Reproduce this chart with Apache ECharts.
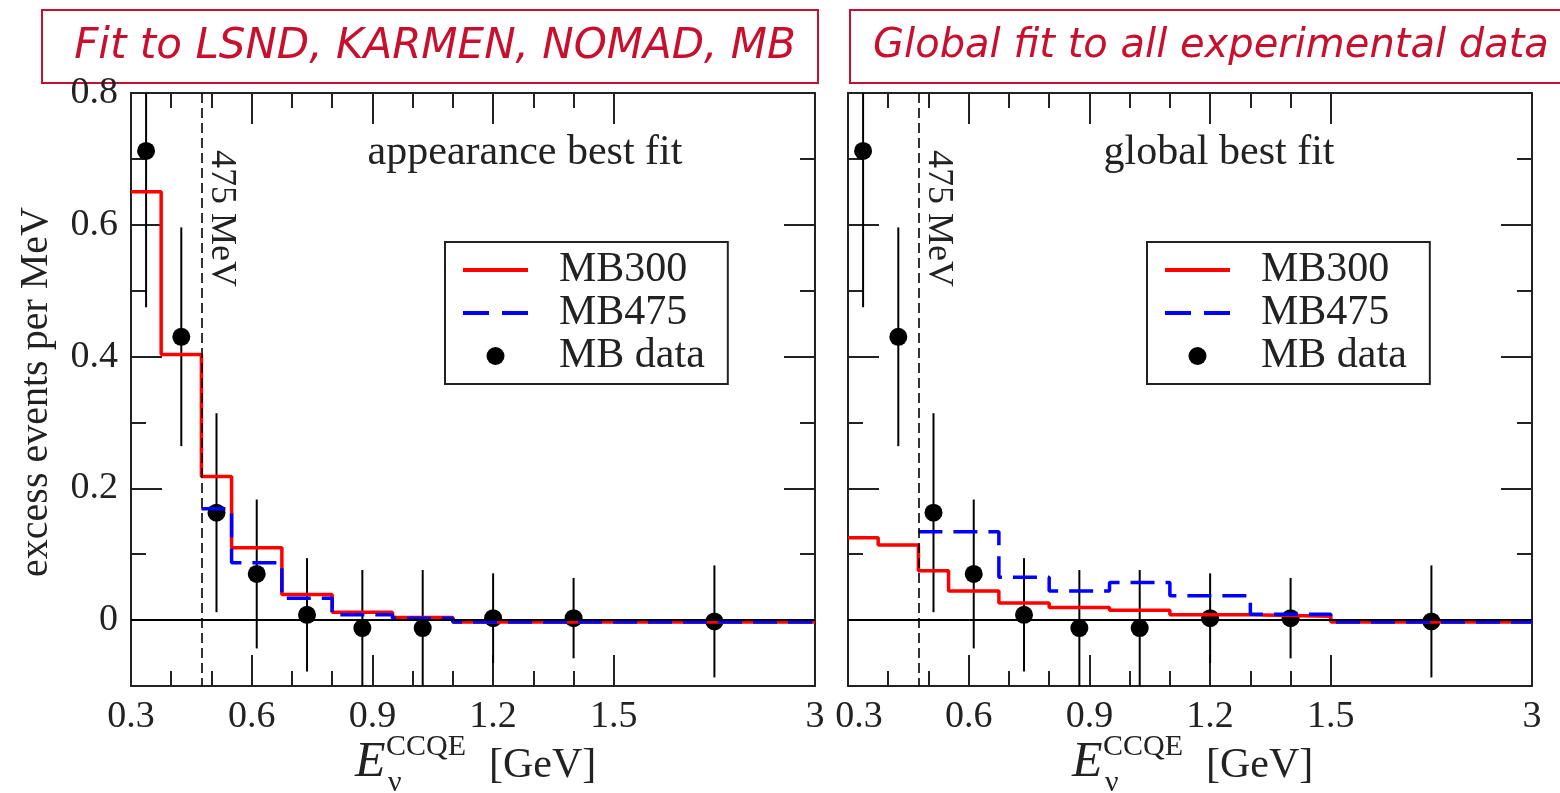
<!DOCTYPE html>
<html><head><meta charset="utf-8">
<script src="https://cdn.jsdelivr.net/npm/echarts@6/dist/echarts.min.js"></script>
<style>html,body{margin:0;padding:0;background:#fff}#c{width:1560px;height:793px}</style>
</head><body><div id="c"></div>
<script>
// ---------- data (energies in GeV) ----------
const binEdges      = [0.3, 0.375, 0.475, 0.55, 0.675, 0.8, 0.95, 1.1, 1.3, 1.5, 3.0];
const mb475Edges    = [0.475, 0.55, 0.675, 0.8, 0.95, 1.1, 1.3, 1.5, 3.0];
// left panel: appearance best fit
const appMB300      = [0.650, 0.403, 0.218, 0.110, 0.039, 0.012, 0.004, -0.003, -0.003, -0.003];
const appMB475      = [0.169, 0.087, 0.033, 0.008, 0.003, -0.003, -0.003, -0.003];
// right panel: global best fit
const globMB300     = [0.125, 0.114, 0.075, 0.044, 0.026, 0.019, 0.015, 0.008, 0.006, -0.003];
const globMB475     = [0.134, 0.134, 0.065, 0.044, 0.057, 0.037, 0.009, -0.003];
// MiniBooNE data points
const dataE         = [0.3375, 0.425, 0.5125, 0.6125, 0.7375, 0.875, 1.025, 1.2, 1.4, 2.25];
const dataY         = [0.712, 0.430, 0.163, 0.070, 0.008, -0.012, -0.012, 0.003, 0.003, -0.002];
const dataErr       = [0.237, 0.166, 0.151, 0.113, 0.086, 0.088, 0.088, 0.068, 0.061, 0.085];
// axis ticks
const xTickLabels   = [0.3, 0.6, 0.9, 1.2, 1.5, 3];
const xMajorTicks   = [0.6, 0.9, 1.2, 1.5];
const xMinorTicks   = [0.4, 0.5, 0.7, 0.8, 1.0, 1.1, 1.3, 1.4];
const yTickLabels   = [0, 0.2, 0.4, 0.6, 0.8];
const yMajorTicks   = [0, 0.2, 0.4, 0.6];
const yMinorTicks   = [0.1, 0.3, 0.5, 0.7];
const thresholdE    = 0.475;
const panelTitles   = ['Fit to LSND, KARMEN, NOMAD, MB', 'Global fit to all experimental data'];
const panelNotes    = ['appearance best fit', 'global best fit'];

// ---------- scale: linear up to 1.5 GeV, compressed 1.5-3 GeV ----------
function toU(x){ return x <= 1.5 ? x : 1.5 + (x - 1.5) / 3; }
function fromU(u){ return u <= 1.5 + 1e-9 ? u : 1.5 + (u - 1.5) * 3; }
function stepPts(edges, vals){
  const p = [];
  for (let i = 0; i < vals.length; i++){ p.push([toU(edges[i]), vals[i]]); p.push([toU(edges[i+1]), vals[i]]); }
  return p;
}

const SERIF = '"Liberation Serif","Times New Roman",serif';
const INK = '#222';
const RED = '#ff0000', BLUE = '#0000ff';
const grids = [
  {left:131, top:93, width:684, height:593, outerBoundsMode:'none'},
  {left:848, top:93, width:684, height:593, outerBoundsMode:'none'}
];
const lineSt = {color: INK, width: 2};
const xAxes = [], yAxes = [], series = [];

[0,1].forEach(g => {
  const xb = {gridIndex:g, type:'value', min:0.3, max:toU(3), splitLine:{show:false}};
  const mk = (pos, major, labels) => Object.assign({}, xb, {
    position: pos,
    axisLine: {show: major, onZero:false, lineStyle: lineSt},
    axisTick: {show:true, inside:true, length: major ? 31 : 15,
               customValues: (major ? xMajorTicks : xMinorTicks).map(toU), lineStyle: lineSt},
    axisLabel: labels ? {show:true, customValues: xTickLabels.map(toU),
        formatter: v => {
          const x = fromU(v);
          const s = Math.abs(x - 3) < 1e-6 ? '3' : x.toFixed(1);
          return (g === 1 && Math.abs(x - 0.3) < 1e-6) ? '{s|' + s + '}' : s;
        },
        rich: {s: {fontSize:38, fontFamily:SERIF, color:INK, padding:[0,0,0,22]}},
        fontSize:38, fontFamily:SERIF, color:INK, margin:12} : {show:false}
  });
  xAxes.push(mk('bottom', true, true), mk('bottom', false, false), mk('top', true, false), mk('top', false, false));

  const yb = {gridIndex:g, type:'value', min:-0.1, max:0.8, splitLine:{show:false}};
  const mky = (pos, major, labels) => Object.assign({}, yb, {
    position: pos,
    axisLine: {show: major, onZero:false, lineStyle: lineSt},
    axisTick: {show:true, inside:true, length: major ? 31 : 15,
               customValues: major ? yMajorTicks : yMinorTicks, lineStyle: lineSt},
    axisLabel: labels ? {show:true, customValues: yTickLabels,
        formatter: v => v === 0 ? '0' : v.toFixed(1),
        fontSize:38, fontFamily:SERIF, color:INK, margin:13} : {show:false}
  });
  yAxes.push(mky('left', true, g === 0), mky('left', false, false), mky('right', true, false), mky('right', false, false));

  const xi = g * 4, yi = g * 4;
  const mb300 = g === 0 ? appMB300 : globMB300;
  const mb475 = g === 0 ? appMB475 : globMB475;

  series.push({
    type:'custom', name:'err' + g, xAxisIndex:xi, yAxisIndex:yi, clip:true, silent:true,
    data: dataE.map((e, i) => [toU(e), dataY[i] - dataErr[i], dataY[i] + dataErr[i]]),
    encode: {x:0, y:[1,2]},
    renderItem: (params, api) => {
      const a = api.coord([api.value(0), api.value(1)]);
      const b = api.coord([api.value(0), api.value(2)]);
      return {type:'line', shape:{x1:a[0], y1:a[1], x2:b[0], y2:b[1]}, style:{stroke:'#000', lineWidth:2}};
    },
    markLine: {silent:true, symbol:['none','none'], label:{show:false}, animation:false,
      data: [
        {yAxis:0, lineStyle:{color:'#000', width:2, type:'solid'}},
        [{coord:[toU(thresholdE), 0.8]}, {coord:[toU(thresholdE), -0.1], lineStyle:{color:'#000', width:1.6, type:[10,5]}}]
      ]}
  });
  series.push({type:'line', name:'MB300', xAxisIndex:xi, yAxisIndex:yi, data: stepPts(binEdges, mb300),
    symbol:'none', clip:true, lineStyle:{color:RED, width:3.5}, itemStyle:{color:RED}});
  series.push({type:'line', name:'MB475', xAxisIndex:xi, yAxisIndex:yi, data: stepPts(mb475Edges, mb475),
    symbol:'none', clip:true, lineStyle:{color:BLUE, width:3.5, type:[24,11]}, itemStyle:{color:BLUE}});
  series.push({type:'scatter', name:'MB data', xAxisIndex:xi, yAxisIndex:yi, data: dataE.map((e, i) => [toU(e), dataY[i]]),
    symbol:'circle', symbolSize:18, clip:true, itemStyle:{color:'#000', opacity:1}});
});

const legendBase = {
  top:242, orient:'vertical', selectedMode:false,
  data:[
    {name:'MB300', itemStyle:{opacity:0}, lineStyle:{width:4, color:RED}},
    {name:'MB475', itemStyle:{opacity:0}, lineStyle:{width:4, color:BLUE, type:[26,13]}},
    {name:'MB data', icon:'circle', itemStyle:{color:'#000', opacity:1}}
  ],
  itemWidth:65, itemHeight:18, itemGap:1,
  borderColor:INK, borderWidth:2, borderRadius:0, backgroundColor:'#fff',
  padding:[7,23,7,16],
  textStyle:{fontSize:42, fontFamily:SERIF, color:INK, lineHeight:42, padding:[0,0,0,26]}
};

const chart = echarts.init(document.getElementById('c'));
chart.setOption({
  animation:false,
  backgroundColor:'#fff',
  grid: grids,
  xAxis: xAxes,
  yAxis: yAxes,
  legend: [Object.assign({left:445}, legendBase), Object.assign({left:1147}, legendBase)],
  series: series
});

// ---------- annotations ----------
const TITLE_RED = '#c8102e';
const TITLE_FONT = '"Comic Sans MS","DejaVu Sans",sans-serif';
const gfx = [
  {type:'rect', shape:{x:42, y:10, width:776, height:73}, style:{fill:'none', stroke:TITLE_RED, lineWidth:2}},
  {type:'rect', shape:{x:850, y:10, width:730, height:73}, style:{fill:'none', stroke:TITLE_RED, lineWidth:2}},
  {type:'text', x:435, y:47, style:{text:panelTitles[0], fill:TITLE_RED, font:'italic 42px ' + TITLE_FONT, align:'center', verticalAlign:'middle'}},
  {type:'text', x:1211, y:47, style:{text:panelTitles[1], fill:TITLE_RED, font:'italic 40px ' + TITLE_FONT, align:'center', verticalAlign:'middle'}},
  {type:'text', x:525, y:153, style:{text:panelNotes[0], fill:INK, font:'42px ' + SERIF, align:'center', verticalAlign:'middle'}},
  {type:'text', x:1219, y:153, style:{text:panelNotes[1], fill:INK, font:'42px ' + SERIF, align:'center', verticalAlign:'middle'}},
  {type:'text', x:36, y:392, rotation:Math.PI/2, style:{text:'excess events per MeV', fill:INK, font:'40px ' + SERIF, align:'center', verticalAlign:'middle'}}
];
[0,1].forEach(g => {
  const top = chart.convertToPixel({gridIndex:g}, [toU(thresholdE), 0.8]);
  gfx.push({type:'text', x: top[0] + 20, y: top[1] + 57, rotation:-Math.PI/2,
    style:{text:'475 MeV', fill:INK, font:'36px ' + SERIF, align:'left', verticalAlign:'middle'}});
  const gl = grids[g].left;
  gfx.push({type:'text', x: gl + 224, y: 763, style:{text:'E', fill:INK, font:'italic 50px ' + SERIF, align:'left', verticalAlign:'middle'}});
  gfx.push({type:'text', x: gl + 255, y: 747, style:{text:'CCQE', fill:INK, font:'30px ' + SERIF, align:'left', verticalAlign:'middle'}});
  gfx.push({type:'text', x: gl + 257, y: 783, style:{text:'ν', fill:INK, font:'30px ' + SERIF, align:'left', verticalAlign:'middle'}});
  gfx.push({type:'text', x: gl + 358, y: 766, style:{text:'[GeV]', fill:INK, font:'42px ' + SERIF, align:'left', verticalAlign:'middle'}});
});
chart.setOption({graphic: gfx});
</script></body></html>
